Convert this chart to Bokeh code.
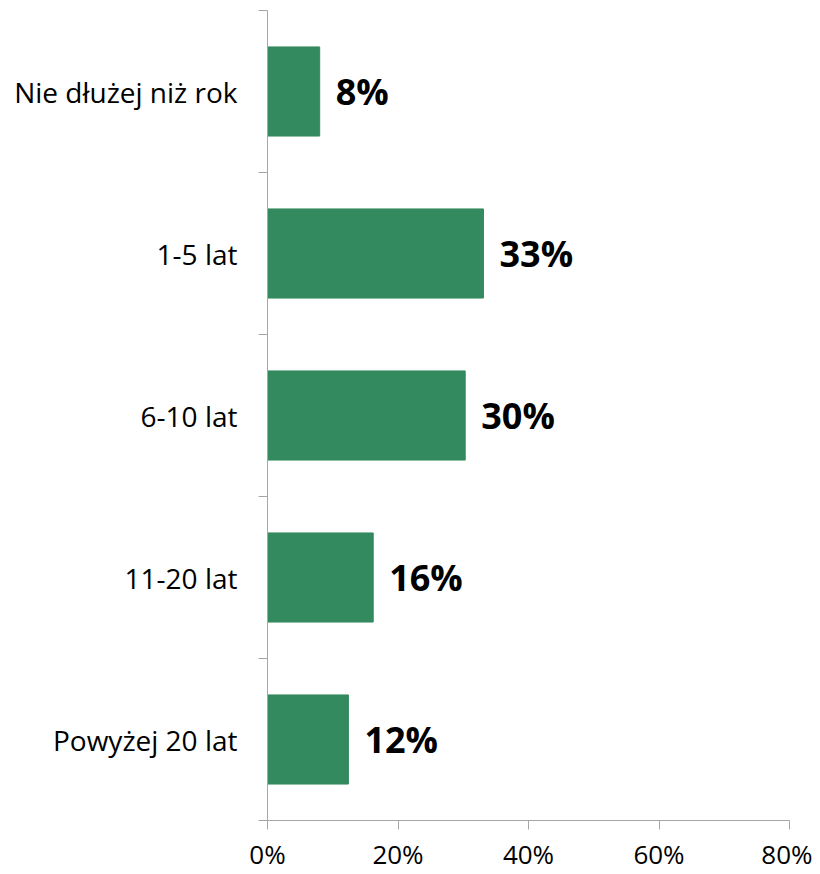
from bokeh.plotting import figure
from bokeh.models import ColumnDataSource, FixedTicker, Range1d, NumeralTickFormatter
from bokeh.core.properties import value
from bokeh.embed import file_html
from bokeh.resources import INLINE

categories = ["Nie dłużej niż rok", "1-5 lat", "6-10 lat", "11-20 lat", "Powyżej 20 lat"]
shares = [8.0, 33.1, 30.3, 16.2, 12.4]
labels = ["8%", "33%", "30%", "16%", "12%"]
x_ticks = [0, 20, 40, 60, 80]

n = len(categories)
ypos = [n - 0.5 - i for i in range(n)]

src = ColumnDataSource(dict(y=ypos, share=shares, label=labels, cat=categories))

FONT = "Open Sans"
GREEN = "#338a5e"
AXIS = "#a6a6a6"

p = figure(width=812, height=874, output_backend="svg", toolbar_location=None,
           x_range=Range1d(0, 80), y_range=Range1d(0, n),
           min_border_left=267, min_border_right=23, min_border_top=10, min_border_bottom=52)
p.outline_line_color = None
p.xgrid.grid_line_color = None
p.ygrid.grid_line_color = None

p.hbar(y="y", right="share", left=0, height=0.55, source=src, color=GREEN)
p.text(x="share", y="y", text="label", source=src, x_offset=16,
       text_font=value(FONT), text_font_style="bold", text_font_size="36px",
       text_baseline="middle", text_align="left", text_color="black")

# x axis
xa = p.xaxis[0]
xa.ticker = FixedTicker(ticks=x_ticks)
xa.formatter = NumeralTickFormatter(format="0")
xa.major_label_overrides = {t: f"{t}%" for t in x_ticks}
xa.axis_line_color = AXIS
xa.major_tick_line_color = AXIS
xa.major_tick_out = 9
xa.major_tick_in = 0
xa.minor_tick_line_color = None
xa.major_label_text_font = FONT
xa.major_label_text_font_size = "26px"
xa.major_label_text_color = "black"
xa.major_label_standoff = 6

# y axis: labels at centers, ticks at boundaries (minor)
ya = p.yaxis[0]
ya.ticker = FixedTicker(ticks=ypos, minor_ticks=list(range(n + 1)))
ya.major_label_overrides = {y: c for y, c in zip(ypos, categories)}
ya.axis_line_color = AXIS
ya.major_tick_line_color = None
ya.minor_tick_line_color = AXIS
ya.minor_tick_out = 9
ya.minor_tick_in = 0
ya.major_label_text_font = FONT
ya.major_label_text_font_size = "28px"
ya.major_label_text_color = "black"
ya.major_label_standoff = 21

open("out.html", "w").write(file_html(p, INLINE))
